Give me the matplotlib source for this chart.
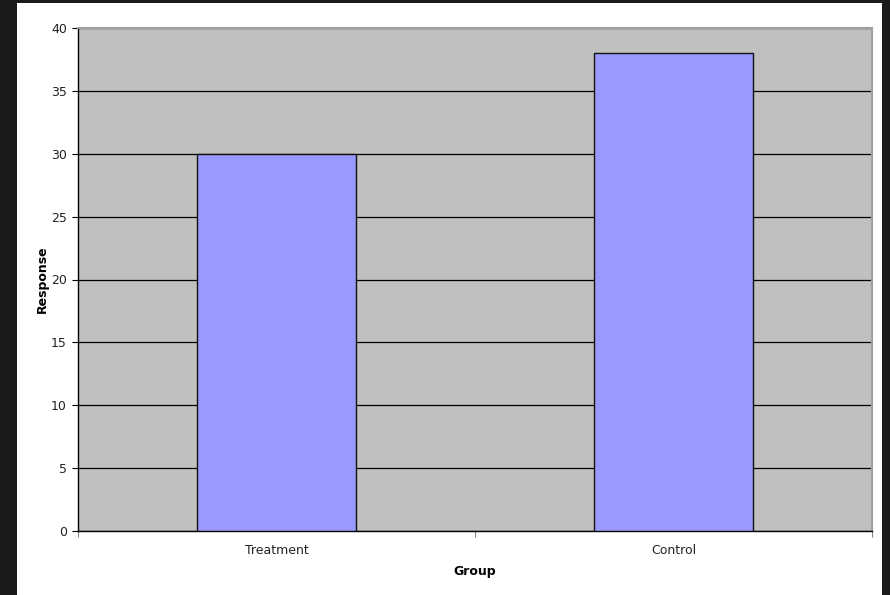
import matplotlib
matplotlib.use('Agg')
import matplotlib.pyplot as plt
import numpy as np

groups = ['Treatment', 'Control']
response = [30, 38]
yticks = [0, 5, 10, 15, 20, 25, 30, 35, 40]

fig = plt.figure(figsize=(8.9, 5.95), dpi=100)
fig.patch.set_facecolor('#1a1a1a')
# white page inside the dark frame
fig.patches.append(plt.Rectangle((17 / 890, 0), 865 / 890, 592 / 595,
                                 transform=fig.transFigure, facecolor='white',
                                 edgecolor='none', zorder=-10))

ax = fig.add_axes([78 / 890, 1 - 531 / 595, 794 / 890, 503 / 595])
ax.set_zorder(5)
ax.set_facecolor('#c0c0c0')

x = np.arange(len(groups))
ax.bar(x, response, width=0.4, color='#9999ff', edgecolor='#111111',
       linewidth=1.0, zorder=3)

ax.set_xlim(-0.5, len(groups) - 0.5)
ax.set_ylim(0, 40)
ax.set_yticks(yticks)
ax.set_yticklabels([str(t) for t in yticks], fontsize=9, color='#222222')
ax.set_xticks(x)
ax.set_xticklabels(groups, fontsize=9, color='#222222')
ax.tick_params(axis='x', length=0, pad=9)
ax.set_xticks(np.arange(-0.5, len(groups), 1), minor=True)
ax.tick_params(axis='x', which='minor', length=4, color='#666666')
ax.tick_params(axis='y', length=4, color='black', pad=4)

ax.yaxis.grid(True, color='black', linewidth=0.9, zorder=1)
ax.set_axisbelow(True)

for side in ['top', 'right']:
    ax.spines[side].set_color('#a0a0a0')
    ax.spines[side].set_linewidth(1.5)
for side in ['left', 'bottom']:
    ax.spines[side].set_color('black')
    ax.spines[side].set_linewidth(1.0)

ax.set_xlabel('Group', fontsize=9, fontweight='bold', labelpad=6)
ax.set_ylabel('Response', fontsize=9, fontweight='bold', labelpad=1.5)

fig.savefig('out.png', dpi=100, facecolor=fig.get_facecolor())
